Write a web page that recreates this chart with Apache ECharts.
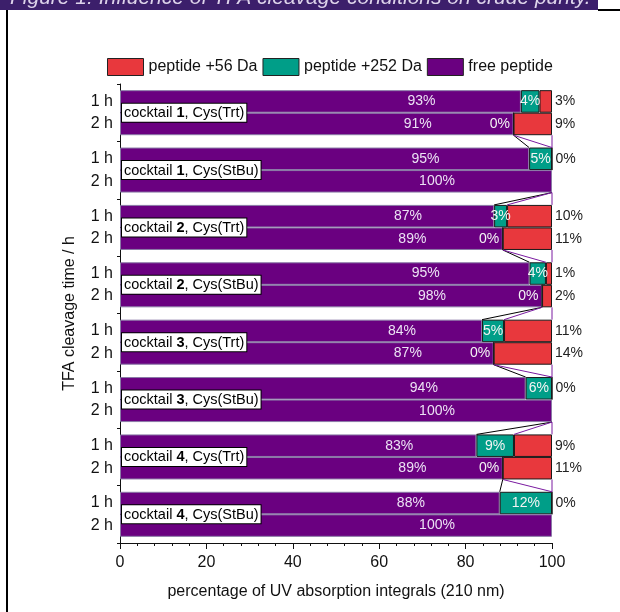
<!DOCTYPE html>
<html>
<head>
<meta charset="utf-8">
<title>TFA cleavage</title>
<script src="https://cdn.jsdelivr.net/npm/echarts@6/dist/echarts.min.js"></script>
<style>
  html, body { margin: 0; padding: 0; background: #fff; }
  #main { width: 620px; height: 612px; }
</style>
</head>
<body>
<div id="main"></div>
<script type="text/javascript">
// groups (top to bottom), each has a 1 h and a 2 h bar
var cocktails = ['1', '1', '2', '2', '3', '3', '4', '4'];
var groups = ['Trt', 'StBu', 'Trt', 'StBu', 'Trt', 'StBu', 'Trt', 'StBu'];
var times = ['1 h', '2 h'];

// percentages (labels are rounded)
var free1h = [92.8, 94.7, 86.6, 94.8, 83.8, 93.9, 82.5, 87.9];
var adduct252_1h = [4.3, 5.3, 3.0, 3.8, 5.1, 6.1, 8.7, 12.1];
var adduct56_1h = [2.9, 0, 10.4, 1.4, 11.1, 0, 8.8, 0];

var free2h = [91.1, 100, 88.6, 97.7, 86.5, 100, 88.6, 100];
var adduct252_2h = [0, null, 0, 0, 0, null, 0, null];
var adduct56_2h = [8.9, null, 11.4, 2.3, 13.5, null, 11.4, null];

var xTicks = [0, 20, 40, 60, 80, 100];

var RED = '#e8383d', TEAL = '#009e88', PURPLE = '#6a0080';
var GAP = 0.215;

var categories = cocktails.map(function (c, i) {
    return 'cocktail ' + c + ', Cys(' + groups[i] + ')';
});

function pct(v) { return Math.round(v) + '%'; }

function freeSeries(name, data, stack) {
    return {
        name: 'free peptide', type: 'bar', stack: stack,
        barGap: '0%', barCategoryGap: (GAP * 100) + '%',
        itemStyle: { color: PURPLE, borderColor: '#8a7aa6', borderWidth: 1 },
        label: {
            show: true, position: 'inside', offset: [101, 0],
            color: '#ece2f4', fontSize: 14, fontFamily: 'Liberation Sans',
            formatter: function (p) { return pct(p.value); }
        },
        data: data
    };
}

function tealSeries(data, stack) {
    return {
        name: 'peptide +252 Da', type: 'bar', stack: stack,
        barGap: '0%', barCategoryGap: (GAP * 100) + '%',
        itemStyle: { color: TEAL, borderColor: '#1a1a1a', borderWidth: 1 },
        data: data.map(function (v) {
            if (v === null) return null;
            return {
                value: v,
                label: {
                    show: true,
                    position: v === 0 ? 'left' : 'inside',
                    distance: 3,
                    color: '#f4f4f4', fontSize: 14, fontFamily: 'Liberation Sans',
                    formatter: function (p) { return pct(p.value); }
                }
            };
        })
    };
}

function redSeries(data, stack) {
    return {
        name: 'peptide +56 Da', type: 'bar', stack: stack,
        barGap: '0%', barCategoryGap: (GAP * 100) + '%',
        itemStyle: { color: RED, borderColor: '#1a1a1a', borderWidth: 1 },
        label: {
            show: true, position: 'right', distance: 3,
            color: '#222', fontSize: 14, fontFamily: 'Liberation Sans',
            formatter: function (p) { return pct(p.value); }
        },
        data: data
    };
}

function z(v) { return v === null ? 0 : v; }

// series lines across the gaps between groups
var seriesLines = [];
for (var i = 0; i < categories.length - 1; i++) {
    var a = free2h[i], b = free1h[i + 1];
    var a2 = a + z(adduct252_2h[i]), b2 = b + z(adduct252_1h[i + 1]);
    var a3 = a2 + z(adduct56_2h[i]), b3 = b2 + z(adduct56_1h[i + 1]);
    seriesLines.push([i, a, b, a2, b2, Math.min(a3, 100), Math.min(b3, 100)]);
}

var myChart = echarts.init(document.getElementById('main'));

var option = {
    animation: false,
    textStyle: { fontFamily: 'Liberation Sans' },
    legend: {
        data: ['peptide +56 Da', 'peptide +252 Da', 'free peptide'],
        left: 107, top: 58, padding: 0,
        itemWidth: 36, itemHeight: 17, itemGap: 5,
        icon: 'rect',
        itemStyle: { borderColor: '#222', borderWidth: 1 },
        textStyle: { fontSize: 16, color: '#111', fontFamily: 'Liberation Sans' }
    },
    grid: { left: 120, right: 68, top: 84, bottom: 69 },
    xAxis: {
        type: 'value', min: 0, max: 100, interval: 20,
        name: 'percentage of UV absorption integrals (210 nm)',
        nameLocation: 'middle', nameGap: 41,
        nameTextStyle: { fontSize: 16, color: '#111', fontFamily: 'Liberation Sans' },
        axisLine: { show: true, lineStyle: { color: '#111' } },
        axisTick: { show: true, length: 6, lineStyle: { color: '#111' } },
        minorTick: { show: true, splitNumber: 5, length: 3, lineStyle: { color: '#111' } },
        splitLine: { show: false },
        axisLabel: {
            fontSize: 16, color: '#111', margin: 12,
            formatter: function (v) { return xTicks.indexOf(v) >= 0 ? String(v) : ''; }
        }
    },
    yAxis: [{
        type: 'category', inverse: true, data: categories,
        name: 'TFA cleavage time / h',
        nameLocation: 'middle', nameGap: 42, nameRotate: 90,
        nameTextStyle: { fontSize: 16, color: '#111', fontFamily: 'Liberation Sans' },
        axisLine: { show: true, lineStyle: { color: '#111' } },
        axisTick: { show: true, length: 3, lineStyle: { color: '#111' } },
        axisLabel: {
            fontSize: 16, color: '#111', margin: 7, lineHeight: 22.5,
            formatter: function () { return times.join('\n'); }
        }
    }, {
        type: 'category', inverse: true, data: categories, position: 'left', z: 10,
        axisLine: { show: false }, axisTick: { show: false },
        axisLabel: {
            inside: true, margin: 2,
            backgroundColor: '#fff', borderColor: '#000', borderWidth: 1,
            padding: [2, 2, 1, 2],
            fontSize: 14.5, color: '#000',
            formatter: function (v, idx) {
                return '{n|cocktail }{b|' + cocktails[idx] + '}{n|, Cys(' + groups[idx] + ')}';
            },
            rich: {
                n: { fontSize: 14.5, color: '#000', fontFamily: 'Liberation Sans' },
                b: { fontSize: 14.5, color: '#000', fontWeight: 'bold', fontFamily: 'Liberation Sans' }
            }
        }
    }],
    series: [
        freeSeries('free peptide', free1h, 'h1'),
        tealSeries(adduct252_1h, 'h1'),
        redSeries(adduct56_1h, 'h1'),
        freeSeries('free peptide', free2h, 'h2'),
        tealSeries(adduct252_2h, 'h2'),
        redSeries(adduct56_2h, 'h2'),
        {
            type: 'custom', name: 'series lines', silent: true, z: 5,
            encode: { x: [1, 2, 3, 4, 5, 6], y: 0 },
            renderItem: function (params, api) {
                var idx = api.value(0);
                var band = api.size([0, 1])[1];
                var half = band * (1 - GAP) / 2;
                var y0 = api.coord([0, idx])[1] + half;
                var y1 = api.coord([0, idx + 1])[1] - half;
                var pairs = [[1, 2, '#000'], [3, 4, '#7a1aa0'], [5, 6, '#7a1aa0']];
                return {
                    type: 'group',
                    children: pairs.map(function (p) {
                        return {
                            type: 'line',
                            shape: {
                                x1: api.coord([api.value(p[0]), idx])[0], y1: y0,
                                x2: api.coord([api.value(p[1]), idx])[0], y2: y1
                            },
                            style: { stroke: p[2], lineWidth: 1 }
                        };
                    })
                };
            },
            data: seriesLines
        }
    ],
    graphic: [
        { type: 'rect', left: 0, top: 0, shape: { width: 598, height: 10 }, style: { fill: '#3c1f6b' } },
        {
            type: 'text', x: 10, y: -2,
            style: {
                text: 'Figure 1: Influence of TFA cleavage conditions on crude purity.',
                fill: '#ddd3ea', font: 'italic 21px "Liberation Sans"',
                verticalAlign: 'middle'
            }
        },
        { type: 'line', shape: { x1: 7, y1: 10, x2: 7, y2: 612 }, style: { stroke: '#000', lineWidth: 2 } },
        { type: 'line', shape: { x1: 598, y1: 10, x2: 620, y2: 10 }, style: { stroke: '#000', lineWidth: 2 } }
    ]
};

myChart.setOption(option);
</script>
</body>
</html>
